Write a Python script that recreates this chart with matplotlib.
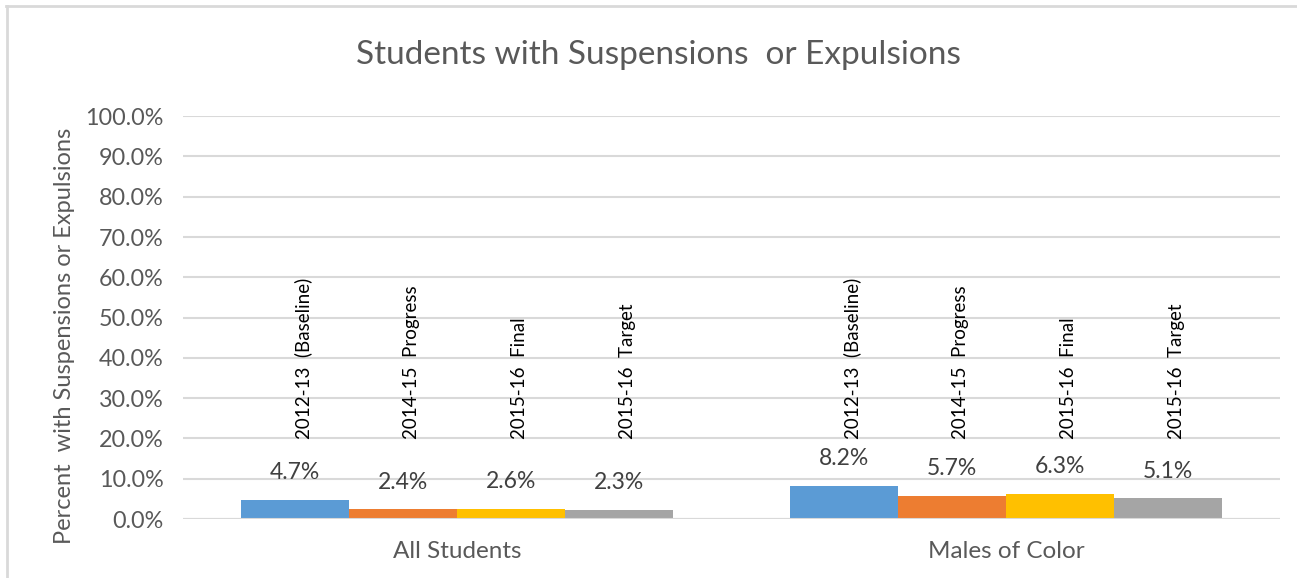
import numpy as np
import matplotlib.pyplot as plt
from matplotlib.lines import Line2D

groups = ["All Students", "Males of Color"]
series = ["2012-13  (Baseline)", "2014-15  Progress", "2015-16  Final", "2015-16  Target"]
values = [
    [4.7, 8.2],
    [2.4, 5.7],
    [2.6, 6.3],
    [2.3, 5.1],
]
colors = ["#5B9BD5", "#ED7D31", "#FFC000", "#A5A5A5"]

plt.rcParams['font.family'] = ['Lato', 'DejaVu Sans']
text_color = '#595959'
grid_color = '#D9D9D9'

fig = plt.figure(figsize=(12.97, 5.78), dpi=100)
ax = fig.add_axes([0.141, 0.102, 0.846, 0.697])

x = np.arange(len(groups))
width = 0.197
for i, (name, vals, c) in enumerate(zip(series, values, colors)):
    pos = x + (i - 1.5) * width
    ax.bar(pos, vals, width, color=c, zorder=3)
    for p, v in zip(pos, vals):
        ax.annotate(f"{v:.1f}%", (p, v), xytext=(0, 15), textcoords='offset points',
                    ha='center', va='baseline', fontsize=16.5, color='#404040')
        ax.text(p + 0.015, 19.8, name, rotation=90, ha='center', va='bottom',
                fontsize=13.5, color='black')

ax.set_xlim(-0.5, 1.5)
ax.set_ylim(0, 100)
ax.set_yticks(np.arange(0, 101, 10))
ax.set_yticklabels([f"{t:.1f}%" for t in np.arange(0, 101, 10)])
ax.set_xticks(x)
ax.set_xticklabels(groups)
ax.tick_params(axis='both', length=0, colors=text_color)
ax.tick_params(axis='y', pad=14, labelsize=16.8)
ax.tick_params(axis='x', pad=16, labelsize=17.5)
ax.yaxis.grid(True, color=grid_color, linewidth=1.5, zorder=0)
for s in ax.spines.values():
    s.set_visible(False)
ax.axhline(0, color=grid_color, linewidth=1.5, zorder=4)

ax.set_ylabel("Percent  with Suspensions or Expulsions", fontsize=17, color=text_color)
ax.yaxis.label.set_va('center')
ax.yaxis.set_label_coords(-0.108, 0.454)
fig.text(0.508, 0.905, "Students with Suspensions  or Expulsions", ha='center', va='center',
         fontsize=24, color=text_color)

# outer chart border
fig.add_artist(Line2D([6 / 1297, 1], [1 - 6 / 578] * 2, color=grid_color, linewidth=2,
                      transform=fig.transFigure))
fig.add_artist(Line2D([7 / 1297] * 2, [0, 1 - 6 / 578], color=grid_color, linewidth=2,
                      transform=fig.transFigure))

fig.savefig("out.png", dpi=100)
